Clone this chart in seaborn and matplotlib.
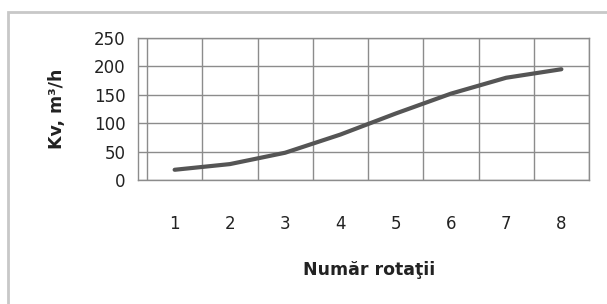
import matplotlib
matplotlib.use("Agg")
import matplotlib.pyplot as plt
import seaborn as sns
import pandas as pd
from matplotlib.patches import Rectangle

# Data
rotations = [1, 2, 3, 4, 5, 6, 7, 8]
kv_values = [18, 28, 48, 80, 117, 152, 180, 195]
y_ticks = [0, 50, 100, 150, 200, 250]
x_label = "Număr rotaţii"
y_label = "Kv, m³/h"

df = pd.DataFrame({"rot": rotations, "kv": kv_values})

sns.set_theme(style="white")
plt.rcParams["font.family"] = ["DejaVu Sans"]

fig = plt.figure(figsize=(6.07, 3.04), dpi=100)
ax = fig.add_axes([138/607, 1-180/304, (589-138)/607, (180-38)/304])

# Outer chart border
fig.patches.append(Rectangle((8/607, -0.2), 1.2, 1-12/304+0.2, transform=fig.transFigure,
                             fill=False, edgecolor="#c8c8c8", linewidth=2, clip_on=False))

sns.lineplot(data=df, x="rot", y="kv", ax=ax, color="#555555", linewidth=3,
             solid_capstyle="round")

ax.set_xlim(0.337, 8.5)
ax.set_ylim(0, 250)
ax.set_yticks(y_ticks)
ax.set_xticks(rotations)
ax.set_xticks([r + 0.5 for r in [0] + rotations], minor=True)
ax.set_xticklabels([str(r) for r in rotations])
ax.grid(False)
ax.grid(True, which="minor", axis="x", color="#8c8c8c", linewidth=1)
ax.grid(True, which="major", axis="y", color="#8c8c8c", linewidth=1)
ax.tick_params(axis="both", which="both", length=0)
ax.tick_params(axis="y", pad=9, labelsize=12, labelcolor="#222222")
ax.tick_params(axis="x", pad=25, labelsize=12, labelcolor="#222222")
for s in ax.spines.values():
    s.set_color("#8c8c8c")
    s.set_linewidth(1)

ax.set_xlabel(x_label, fontsize=12.5, fontweight="bold", color="#222222")
ax.set_ylabel(y_label, fontsize=12.5, fontweight="bold", color="#222222")
ax.xaxis.set_label_coords((369-138)/451, (180-270)/142)
ax.xaxis.label.set_verticalalignment("center")
ax.yaxis.set_label_coords((57-138)/451, 0.5)
ax.yaxis.label.set_verticalalignment("center")

fig.savefig("out.png", dpi=100)
